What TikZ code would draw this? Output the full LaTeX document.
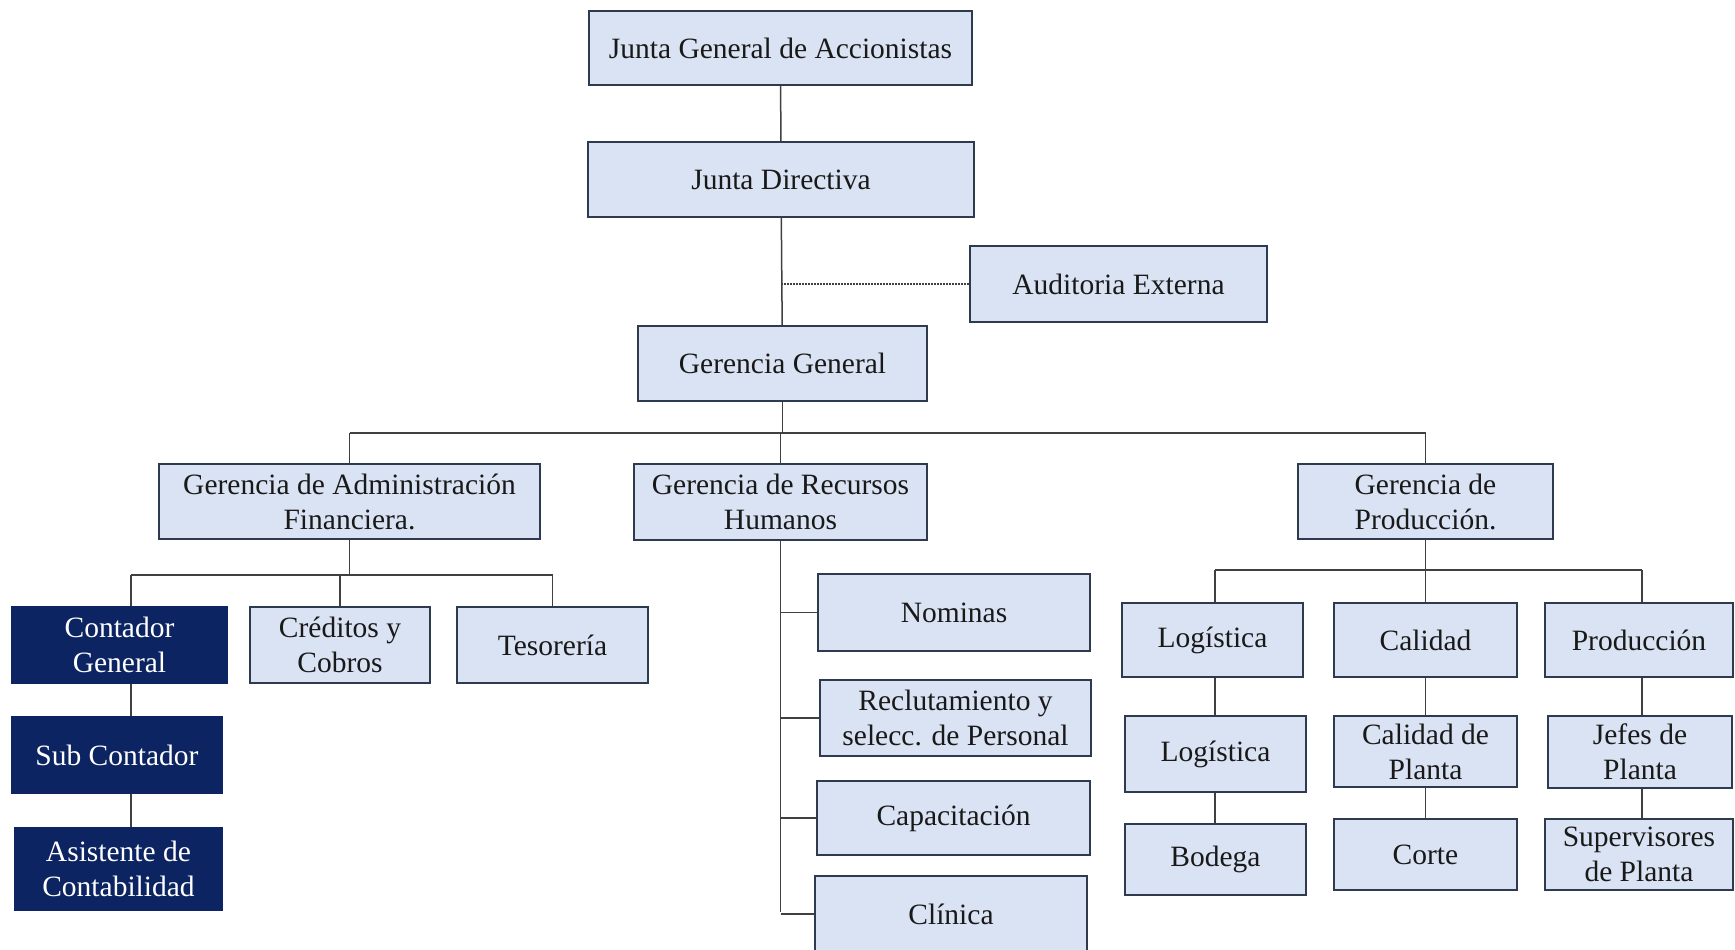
\documentclass[tikz,border=0pt]{standalone}
\usepackage{fontspec}
\setmainfont{Liberation Serif}
\definecolor{boxfill}{HTML}{DAE3F3}
\definecolor{boxline}{HTML}{2E3B4E}
\definecolor{navy}{HTML}{0C2461}
\definecolor{conn}{HTML}{404040}
\tikzset{
  box/.style={draw=boxline, line width=1.6pt, fill=boxfill, text=black!90, align=center, inner sep=0pt,
    font=\fontsize{29.5}{35}\selectfont},
  darkbox/.style={box, fill=navy, draw=navy, text=white},
  link/.style={draw=conn, line width=1.5pt},
  dotlink/.style={draw=conn, line width=1.8pt, dash pattern=on 2pt off 1pt}
}
\begin{document}
\begin{tikzpicture}[x=1pt,y=-1pt]
\useasboundingbox (0,0) rectangle (1735,950);
\fill[white] (0,0) rectangle (1735,950);
% top chain
\node[box, minimum width=383, minimum height=74] (JG) at (780.5,48) {Junta General de Accionistas};
\node[box, minimum width=386, minimum height=75] (JD) at (781,179.5) {Junta Directiva};
\node[box, minimum width=297, minimum height=76] (AE) at (1118.5,284) {Auditoria Externa};
\node[box, minimum width=289, minimum height=75] (GG) at (782.5,363.5) {Gerencia General};
% managers
\node[box, minimum width=381, minimum height=75] (GA) at (349.5,501.5) {Gerencia de Administración\\Financiera.};
\node[box, minimum width=293, minimum height=76] (GR) at (780.5,502) {Gerencia de Recursos\\Humanos};
\node[box, minimum width=255, minimum height=75] (GP) at (1425.5,501.5) {Gerencia de\\Producción.};
% admin
\node[darkbox, minimum width=215, minimum height=76] (CG) at (119.5,645) {Contador\\General};
\node[box, minimum width=180, minimum height=76] (CR) at (340,645) {Créditos y\\Cobros};
\node[box, minimum width=191, minimum height=76] (TE) at (552.5,645) {Tesorería};
\node[darkbox, minimum width=210, minimum height=76] (SC) at (117,755) {Sub Contador};
\node[darkbox, minimum width=207, minimum height=82] (AC) at (118.5,869) {Asistente de\\Contabilidad};
% RRHH
\node[box, minimum width=272, minimum height=77] (NO) at (954,612.5) {Nominas};
\node[box, minimum width=271, minimum height=76] (RE) at (955.5,718) {Reclutamiento y\\selecc. de Personal};
\node[box, minimum width=273, minimum height=74] (CP) at (953.5,818) {Capacitación};
\node[box, minimum width=272, minimum height=76] (CL) at (951,914) {Clínica};
% production
\node[box, minimum width=181, minimum height=74] (LO) at (1212.5,640) {Logística};
\node[box, minimum width=183, minimum height=74] (CA) at (1425.5,640) {Calidad};
\node[box, minimum width=188, minimum height=74] (PR) at (1639,640) {Producción};
\node[box, minimum width=181, minimum height=76] (LT) at (1215.5,754) {Logística};
\node[box, minimum width=181, minimum height=71] (BO) at (1215.5,859.5) {Bodega};
\node[box, minimum width=183, minimum height=71] (CQ) at (1425.5,751.5) {Calidad de\\Planta};
\node[box, minimum width=183, minimum height=71] (CO) at (1425.5,854.5) {Corte};
\node[box, minimum width=184, minimum height=72] (JP) at (1640,752) {Jefes de\\Planta};
\node[box, minimum width=188, minimum height=71] (SP) at (1639,854.5) {Supervisores\\de Planta};
% coordinates
\coordinate (mbar) at (0,433);
\coordinate (abar) at (0,575);
\coordinate (pbar) at (0,570);
\coordinate (rend) at (782,912);
\coordinate (cgx) at (131,0);
\coordinate (lox) at (1215,0);
\coordinate (prx) at (1642,0);
% connectors
\draw[link] (JG) -- (JD);
\draw[link] (JD) -- (GG);
\draw[dotlink] (JD.south |- AE.west) -- (AE.west);
\draw[link] (GG.south) -- (GG.south |- mbar);
\draw[link] (GA.north |- mbar) -- (GP.north |- mbar);
\draw[link] (GA.north |- mbar) -- (GA.north);
\draw[link] (GR.north |- mbar) -- (GR.north);
\draw[link] (GP.north |- mbar) -- (GP.north);
% admin
\draw[link] (GA.south) -- (GA.south |- abar);
\draw[link] (cgx |- abar) -- (TE.north |- abar);
\draw[link] (cgx |- abar) -- (cgx |- CG.north);
\draw[link] (CR.north |- abar) -- (CR.north);
\draw[link] (TE.north |- abar) -- (TE.north);
\draw[link] (cgx |- CG.south) -- (cgx |- SC.north);
\draw[link] (cgx |- SC.south) -- (cgx |- AC.north);
% RRHH
\draw[link] (GR.south) -- (GR.south |- rend);
\draw[link] (GR.south |- NO.west) -- (NO.west);
\draw[link] (GR.south |- RE.west) -- (RE.west);
\draw[link] (GR.south |- CP.west) -- (CP.west);
\draw[link] (GR.south |- CL.west) -- (CL.west);
% production
\draw[link] (GP.south) -- (GP.south |- pbar);
\draw[link] (lox |- pbar) -- (prx |- pbar);
\draw[link] (lox |- pbar) -- (lox |- LO.north);
\draw[link] (CA.north |- pbar) -- (CA.north);
\draw[link] (prx |- pbar) -- (prx |- PR.north);
\draw[link] (lox |- LO.south) -- (lox |- LT.north);
\draw[link] (lox |- LT.south) -- (lox |- BO.north);
\draw[link] (CA) -- (CQ);
\draw[link] (CQ) -- (CO);
\draw[link] (prx |- PR.south) -- (prx |- JP.north);
\draw[link] (prx |- JP.south) -- (prx |- SP.north);
\end{tikzpicture}
\end{document}
